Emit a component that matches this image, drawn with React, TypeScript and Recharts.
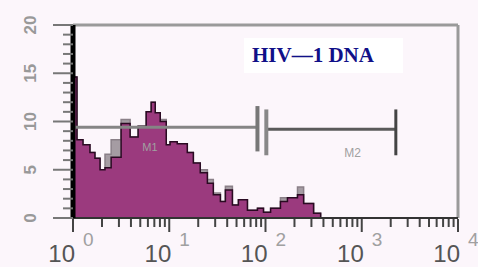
import React from 'react';
import { ComposedChart, Area, XAxis, YAxis, ReferenceLine, ReferenceDot } from 'recharts';

// bin left edges (fluorescence, log scale) and event counts
const binStart = [1, 1.1, 1.27, 1.5, 1.69, 1.91, 2.15, 2.49, 3.16, 3.92, 4.75, 5.76, 6.49, 7.15, 8.06, 9.31, 10.2, 12.1, 15.4, 17.8, 21, 24.9, 28.7, 34, 38.3, 45.3, 52.3, 64.9, 82.5, 95.3, 113, 143, 169, 215, 249, 316, 374];
const sampleCounts = [14.6, 8.1, 7.6, 6.8, 6.2, 5.0, 5.2, 6.3, 9.8, 8.4, 9.5, 11.0, 12.0, 10.9, 10.0, 7.6, 7.9, 7.7, 6.8, 5.7, 4.7, 3.6, 2.4, 1.7, 2.9, 1.35, 1.9, 0.8, 1.0, 0.6, 1.0, 1.7, 2.1, 2.4, 1.5, 0.5, 0];
const controlCounts = [14.6, 8.1, 7.6, 6.8, 6.2, 5.0, 6.6, 8.1, 10.2, 8.4, 9.5, 11.0, 12.0, 10.9, 10.2, 7.6, 7.9, 7.7, 6.8, 5.7, 5.0, 4.0, 2.6, 1.7, 3.3, 1.35, 1.9, 0.8, 1.0, 0.6, 1.0, 2.1, 2.1, 3.2, 1.5, 0.5, 0];

const yTicks = [0, 1, 2, 3, 4, 5, 6, 7, 8, 9, 10, 11, 12, 13, 14, 15, 16, 17, 18, 19, 20];
const yLabels = [0, 5, 10, 15, 20];
const decades = [1, 10, 100, 1000, 10000];
const xTicks = [1, 2, 3, 4, 5, 6, 7, 8, 9, 10, 20, 30, 40, 50, 60, 70, 80, 90, 100, 200, 300, 400, 500, 600, 700, 800, 900, 1000, 2000, 3000, 4000, 5000, 6000, 7000, 8000, 9000, 10000];

// markers M1 / M2
const m1 = { from: 1, to: 82.5, level: 9.4, low: 6.9, high: 11.6 };
const m2 = { from: 102, to: 2260, level: 9.2, low: 6.5, high: 11.25 };

const data = binStart.map((x, i) => ({ x, sample: sampleCounts[i], control: controlCounts[i] }));

const YTick = (props: any) => {
  const { x, y, payload } = props;
  const v = payload.value;
  const major = yLabels.includes(v);
  return (
    <g>
      <line x1={x - (major ? 20 : 10)} x2={x} y1={y} y2={y} stroke="#777" strokeWidth={2} />
      {major && (
        <text
          x={x - 43}
          y={y}
          transform={`rotate(-90 ${x - 43} ${y})`}
          textAnchor="middle"
          dominantBaseline="central"
          fill="#999"
          fontSize={17}
          fontWeight="bold"
          fontFamily="Liberation Sans, Arial, sans-serif"
        >
          {v}
        </text>
      )}
    </g>
  );
};

const XTick = (props: any) => {
  const { x, y, payload } = props;
  const v = payload.value;
  const major = decades.includes(v);
  const exp = Math.round(Math.log10(v));
  return (
    <g>
      <line x1={x} x2={x} y1={y + 1} y2={y + (major ? 14 : 9)} stroke="#444" strokeWidth={2} />
      {major && (
        <g fontFamily="Liberation Sans, Arial, sans-serif">
          <text x={x + 2} y={y + 44} textAnchor="end" fill="#555" fontSize={24}>10</text>
          <text x={x + 10} y={y + 28} fill="#a0a0a0" fontSize={19}>{exp}</text>
        </g>
      )}
    </g>
  );
};

export default function App() {
  return (
    <div style={{ position: 'absolute', left: 0, top: 0, width: 478, height: 267, background: '#fcf6fb' }}>
      <ComposedChart width={478} height={267} data={data} margin={{ top: 25, right: 20, bottom: 9, left: 13 }}>
        <XAxis
          dataKey="x"
          type="number"
          scale="log"
          domain={[1, 10000]}
          ticks={xTicks}
          interval={0}
          allowDataOverflow
          height={40}
          tickSize={0}
          tickMargin={0}
          tickLine={false}
          tick={<XTick />}
          axisLine={{ stroke: '#333', strokeWidth: 2 }}
        />
        <YAxis
          type="number"
          domain={[0, 20]}
          ticks={yTicks}
          interval={0}
          width={60}
          tickSize={0}
          tickMargin={0}
          tickLine={false}
          tick={<YTick />}
          axisLine={{ stroke: '#000', strokeWidth: 5 }}
        />
        <Area dataKey="control" type="stepAfter" fill="#a59ca3" fillOpacity={1} stroke="#8a8088" strokeWidth={1.5} isAnimationActive={false} />
        <Area dataKey="sample" type="stepAfter" fill="#9b3a7e" fillOpacity={1} stroke="#2a0a22" strokeWidth={1.5} isAnimationActive={false} />
        <ReferenceLine y={20} stroke="#9a9a9a" strokeWidth={3} />
        <ReferenceLine x={10000} stroke="#9a9a9a" strokeWidth={3} />
        <ReferenceLine segment={[{ x: m1.from, y: m1.level }, { x: m1.to, y: m1.level }]} stroke="#858585" strokeWidth={3} />
        <ReferenceLine segment={[{ x: m1.to, y: m1.low }, { x: m1.to, y: m1.high }]} stroke="#777" strokeWidth={4} />
        <ReferenceLine segment={[{ x: m2.from, y: m2.level }, { x: m2.to, y: m2.level }]} stroke="#5a5a5a" strokeWidth={3} />
        <ReferenceLine segment={[{ x: m2.from, y: m2.low }, { x: m2.from, y: m2.high }]} stroke="#888" strokeWidth={4} />
        <ReferenceLine segment={[{ x: m2.to, y: m2.low }, { x: m2.to, y: m2.high }]} stroke="#444" strokeWidth={3} />
        <ReferenceDot x={6.3} y={7.3} r={0} fill="none" stroke="none" label={{ value: 'M1', fill: '#a0a0a0', fontSize: 11, fontFamily: 'Liberation Sans, Arial, sans-serif' }} />
        <ReferenceDot x={805} y={6.8} r={0} fill="none" stroke="none" label={{ value: 'M2', fill: '#a0a0a0', fontSize: 12, fontFamily: 'Liberation Sans, Arial, sans-serif' }} />
      </ComposedChart>
      <div
        style={{
          position: 'absolute',
          left: 244,
          top: 38,
          width: 159,
          height: 35,
          background: '#ffffff',
          color: '#101088',
          fontFamily: '"Liberation Serif", "Times New Roman", serif',
          fontWeight: 'bold',
          fontSize: 21,
          lineHeight: '35px',
          paddingLeft: 8,
          boxSizing: 'border-box',
          whiteSpace: 'nowrap',
        }}
      >
        HIV—1 DNA
      </div>
    </div>
  );
}
